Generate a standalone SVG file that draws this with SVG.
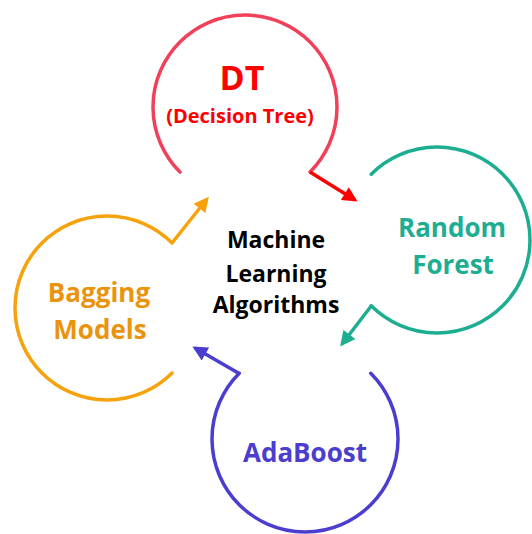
<svg xmlns="http://www.w3.org/2000/svg" width="532" height="534" viewBox="0 0 532 534">
<defs>
<style>
.ring{fill:none;stroke-width:3.5;stroke-linecap:round}
.con{fill:none;stroke-width:3.5}
text{font-family:"Open Sans","Liberation Sans",sans-serif;font-weight:bold;text-anchor:middle}
</style>
<marker id="mr" viewBox="0 0 10 10" refX="8" refY="5" markerWidth="16" markerHeight="15" markerUnits="userSpaceOnUse" orient="auto"><path d="M0,0 L10,5 L0,10 z" fill="#FF0000"/></marker>
<marker id="mt" viewBox="0 0 10 10" refX="8" refY="5" markerWidth="16" markerHeight="15" markerUnits="userSpaceOnUse" orient="auto"><path d="M0,0 L10,5 L0,10 z" fill="#1DAE92"/></marker>
<marker id="mo" viewBox="0 0 10 10" refX="8" refY="5" markerWidth="16" markerHeight="15" markerUnits="userSpaceOnUse" orient="auto"><path d="M0,0 L10,5 L0,10 z" fill="#F6A20C"/></marker>
<marker id="mb" viewBox="0 0 10 10" refX="8" refY="5" markerWidth="16" markerHeight="15" markerUnits="userSpaceOnUse" orient="auto"><path d="M0,0 L10,5 L0,10 z" fill="#4A3DCF"/></marker>
</defs>
<rect width="532" height="534" fill="#FFFFFF"/>
<g id="dt">
<path class="ring" d="M310.05,172.05 A92,92 0 1 0 179.95,172.05" stroke="#F0405A"/>
<text x="242" y="90" font-size="34" fill="#FF0000">DT</text>
<text x="240" y="123" font-size="20" fill="#FF0000">(Decision Tree)</text>
</g>
<g id="random-forest">
<path class="ring" d="M371.24,174.24 A93,93 0 1 1 371.24,305.76" stroke="#1DAE92"/>
<text x="452" y="237" font-size="26" fill="#1DAE92">Random</text>
<text x="453" y="274" font-size="26" fill="#1DAE92">Forest</text>
</g>
<g id="bagging-models">
<path class="ring" d="M172.05,242.95 A92,92 0 1 0 172.05,373.05" stroke="#F6A20C"/>
<text x="99" y="302" font-size="26" fill="#E9940C">Bagging</text>
<text x="100" y="339" font-size="26" fill="#E9940C">Models</text>
</g>
<g id="adaboost">
<path class="ring" d="M239.24,373.24 A93,93 0 1 0 370.76,373.24" stroke="#4A3DCF"/>
<text x="305" y="462" font-size="26" fill="#4A3DCF">AdaBoost</text>
</g>
<g id="center">
<text x="276" y="248" font-size="23" fill="#000000">Machine</text>
<text x="276" y="282" font-size="23" fill="#000000">Learning</text>
<text x="276" y="313" font-size="23" fill="#000000">Algorithms</text>
</g>
<g id="connectors">
<path class="con" d="M310,172 L355,200" stroke="#FF0000" marker-end="url(#mr)"/>
<path class="con" d="M372,305 L342,344" stroke="#1DAE92" marker-end="url(#mt)"/>
<path class="con" d="M172,243 L207,199" stroke="#F6A20C" marker-end="url(#mo)"/>
<path class="con" d="M240,374 L195,348" stroke="#4A3DCF" marker-end="url(#mb)"/>
</g>
</svg>
